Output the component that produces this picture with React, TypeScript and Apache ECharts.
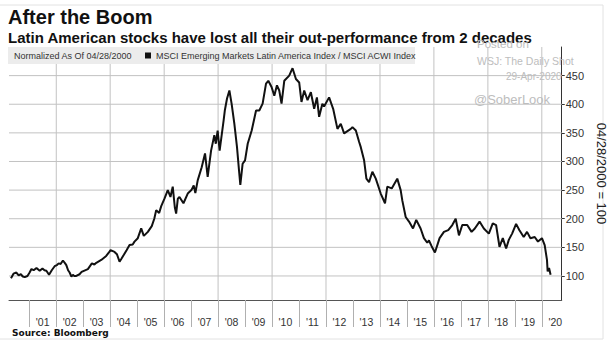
import React, { useEffect, useRef } from "react";
import * as echarts from "echarts";

const dates: string[] = [
  "2000-04-28","2000-06-01","2000-07-10","2000-08-10","2000-09-08","2000-10-05","2000-11-01","2000-12-07",
  "2001-01-05","2001-01-30","2001-03-01","2001-04-08","2001-05-22","2001-06-28","2001-07-25","2001-08-20","2001-09-25","2001-11-01","2001-12-10",
  "2002-01-10","2002-02-03","2002-03-01","2002-04-01","2002-05-01","2002-05-17","2002-06-10","2002-07-01","2002-07-25","2002-08-14","2002-09-01","2002-09-29","2002-11-12","2002-12-10",
  "2003-01-10","2003-03-05","2003-04-28","2003-06-01","2003-06-27","2003-09-02","2003-11-08","2003-12-15",
  "2004-01-06","2004-02-29","2004-04-01","2004-05-07","2004-06-01","2004-07-04","2004-08-10","2004-09-19","2004-11-01","2004-11-25",
  "2005-01-09","2005-02-24","2005-03-31","2005-05-25","2005-07-17","2005-08-20","2005-09-15","2005-10-25","2005-11-22",
  "2006-01-05","2006-02-19","2006-03-27","2006-04-27","2006-05-25","2006-06-12","2006-07-05","2006-07-27","2006-09-19","2006-11-16",
  "2007-01-05","2007-02-05","2007-02-27","2007-03-31","2007-05-24","2007-07-08","2007-08-13","2007-09-28","2007-11-11","2007-12-01","2007-12-26",
  "2008-01-22","2008-03-16","2008-04-01","2008-05-01","2008-06-02","2008-07-02","2008-08-08","2008-09-13","2008-10-10","2008-10-28","2008-11-28","2008-12-31",
  "2009-02-05","2009-03-31","2009-05-29","2009-07-12","2009-08-26","2009-10-11","2009-11-11","2009-12-25",
  "2010-01-31","2010-03-08","2010-04-08","2010-05-09","2010-06-15","2010-08-21","2010-10-05","2010-11-20",
  "2011-01-03","2011-02-03","2011-03-12","2011-04-26","2011-06-10","2011-07-25","2011-08-31","2011-09-30","2011-11-13","2011-12-06",
  "2012-02-12","2012-04-07","2012-06-04","2012-07-19","2012-09-02","2012-12-02","2012-12-24",
  "2013-02-08","2013-03-25","2013-04-16","2013-05-31","2013-07-01","2013-08-06","2013-09-20","2013-11-05",
  "2014-01-11","2014-03-10","2014-04-10","2014-06-09","2014-08-23","2014-10-08","2014-10-30","2014-12-15",
  "2015-01-29","2015-03-24","2015-05-07","2015-07-05","2015-08-19","2015-10-03","2015-10-26","2015-12-01",
  "2016-01-15","2016-03-18","2016-05-16","2016-07-13","2016-09-06","2016-10-22","2016-12-05",
  "2017-01-19","2017-03-27","2017-05-25","2017-07-08","2017-09-10","2017-11-07",
  "2018-01-14","2018-03-08","2018-04-22","2018-06-07","2018-07-22","2018-09-05","2018-10-11","2018-11-25",
  "2019-01-18","2019-03-04","2019-05-01","2019-06-15","2019-07-31","2019-09-27","2019-11-10",
  "2020-01-03","2020-02-09","2020-03-11","2020-03-20","2020-04-08","2020-04-29",
];

const ratio: number[] = [
  96,104,106,101,103,99,98,100,
  106,112,110,114,109,113,110,109,102,110,117,
  119,122,121,127,122,119,110,106,99,102,100,100,103,107,
  109,112,122,120,123,128,135,141,
  145,142,138,125,130,137,145,154,155,160,
  166,183,170,177,187,200,215,210,222,
  235,250,238,256,220,209,235,238,227,244,
  250,258,245,267,290,314,273,319,346,331,354,
  319,372,389,410,424,401,366,325,285,259,296,302,
  331,354,389,389,401,436,441,430,
  415,433,424,401,441,450,463,444,
  438,404,424,407,421,392,412,378,401,396,
  412,392,357,366,349,357,360,
  354,334,325,302,270,264,282,270,
  244,227,256,253,270,250,232,203,
  195,183,198,183,166,158,162,152,
  141,166,177,180,189,200,171,
  189,189,177,183,195,183,
  174,192,189,151,166,148,163,174,
  191,180,168,177,166,168,160,
  166,154,128,108,114,102,
];

const yTicks: number[] = [100, 150, 200, 250, 300, 350, 400, 450];
const tickYears: number[] = [2001,2002,2003,2004,2005,2006,2007,2008,2009,2010,2011,2012,2013,2014,2015,2016,2017,2018,2019,2020];
const gridYears: number[] = [2002,2004,2006,2008,2010,2012,2014,2016,2018,2020];

const title = "After the Boom";
const subtitle = "Latin American stocks have lost all their out-performance from 2 decades";
const seriesName = "MSCI Emerging Markets Latin America Index / MSCI ACWI Index";
const normNote = "Normalized As Of 04/28/2000";
const axisName = "04/28/2000 = 100";
const source = "Source: Bloomberg";

export default function App() {
  const ref = useRef<HTMLDivElement>(null);
  useEffect(() => {
    if (!ref.current) return;
    const chart = echarts.init(ref.current, null, { renderer: "svg" });
    const ts = (s: string) => Date.UTC(+s.slice(0, 4), +s.slice(5, 7) - 1, +s.slice(8, 10));
    const jan1 = (y: number) => Date.UTC(y, 0, 1);
    const jul1 = (y: number) => Date.UTC(y, 6, 1);
    const xMin = Date.UTC(2000, 3, 1);
    const xMax = Date.UTC(2020, 8, 27);
    const yMin = 58;
    const yMax = 500;
    const data = dates.map((d, i) => [ts(d), ratio[i]]);
    const gray = "#bdbdbd";
    const gridColor = "#c2c2c2";
    const font = "Liberation Sans, Arial, sans-serif";
    const gridSeries = (name: string, pts: number[][]) => ({
      name,
      type: "line",
      data: pts,
      z: 1,
      silent: true,
      symbol: "none",
      showSymbol: false,
      clip: false,
      lineStyle: { color: gridColor, width: 1, opacity: 1 },
      itemStyle: { color: gridColor },
      emphasis: { disabled: true },
    });
    chart.setOption({
      animation: false,
      backgroundColor: "#ffffff",
      grid: { left: 9, right: 53, top: 47, bottom: 45, containLabel: false },
      legend: {
        show: true,
        z: 20,
        left: 145,
        top: 51,
        itemWidth: 6,
        itemHeight: 6,
        itemGap: 3,
        icon: "rect",
        padding: 0,
        textStyle: { fontSize: 9, color: "#333", fontFamily: font },
        data: [seriesName],
      },
      xAxis: {
        type: "value",
        min: xMin,
        max: xMax,
        scale: true,
        position: "bottom",
        axisLine: { show: true, lineStyle: { color: "#555", width: 1 } },
        axisTick: { show: true, length: 27, inside: false, customValues: tickYears.map(jan1), lineStyle: { color: "#b0b0b0" } },
        axisLabel: {
          show: true,
          customValues: tickYears.map(jul1),
          margin: 16,
          fontSize: 10.5,
          color: "#333",
          fontFamily: font,
          hideOverlap: false,
          formatter: (v: number) => "'" + String(new Date(v).getUTCFullYear()).slice(2),
        },
        splitLine: { show: false },
      },
      yAxis: {
        type: "value",
        position: "right",
        min: yMin,
        max: yMax,
        name: axisName,
        nameLocation: "middle",
        nameRotate: -90,
        nameGap: 33,
        nameTextStyle: { fontSize: 13, color: "#222", fontFamily: font },
        axisLine: { show: true, lineStyle: { color: "#333", width: 1 } },
        axisTick: { show: true, length: 3, customValues: yTicks, lineStyle: { color: "#333" } },
        axisLabel: { customValues: yTicks, margin: 4, fontSize: 11, color: "#333", fontFamily: font },
        splitLine: { show: false },
      },
      series: [
        ...yTicks.map((v) => gridSeries("h" + v, [[xMin, v], [xMax, v]])),
        ...gridYears.map((y) => gridSeries("v" + y, [[jan1(y), yMin], [jan1(y), yMax]])),
        {
          name: seriesName,
          type: "line",
          data,
          showSymbol: false,
          symbol: "none",
          lineStyle: { color: "#111", width: 2 },
          itemStyle: { color: "#111" },
          z: 5,
        },
      ],
      graphic: [
        { type: "rect", z: -1, shape: { x: -1, y: 5, width: 604, height: 334 }, style: { fill: "none", stroke: "#e2e2e2", lineWidth: 1 } },
        { type: "text", left: 8, top: 7, style: { text: title, fontSize: 20, fontWeight: "bold", fill: "#111", fontFamily: font } },
        { type: "text", left: 8, top: 30, style: { text: subtitle, fontSize: 15, fontWeight: "bold", fill: "#111", fontFamily: font } },
        { type: "rect", z: 10, shape: { x: 8, y: 47, width: 407, height: 17 }, style: { fill: "#ececec" } },
        { type: "text", z: 11, left: 14, top: 51, style: { text: normNote, fontSize: 9, fill: "#333", fontFamily: font } },
        { type: "text", z: 12, left: 477, top: 38, style: { text: "Posted on", fontSize: 11.5, fill: gray, fontFamily: font } },
        { type: "text", z: 12, left: 477, top: 55, style: { text: "WSJ: The Daily Shot", fontSize: 10.5, fill: gray, fontFamily: font } },
        { type: "text", z: 12, left: 506, top: 71, style: { text: "29-Apr-2020", fontSize: 10, fill: gray, fontFamily: font } },
        { type: "text", z: 12, left: 474, top: 93, style: { text: "@SoberLook", fontSize: 13, fill: gray, fontFamily: font } },
        { type: "text", left: 12, top: 328, style: { text: source, fontSize: 9, fontWeight: "bold", fill: "#111", fontFamily: "DejaVu Sans, sans-serif" } },
      ],
    });
    return () => chart.dispose();
  }, []);
  return <div ref={ref} style={{ position: "fixed", left: 0, top: 0, width: 616, height: 345 }} />;
}
